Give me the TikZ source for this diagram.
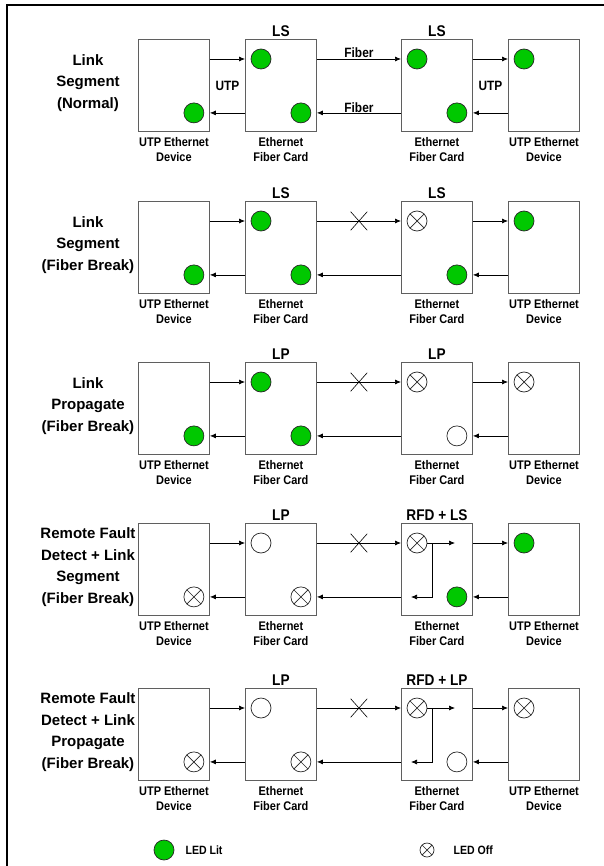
\documentclass[tikz,border=0pt]{standalone}
\usepackage{fontspec}
\setmainfont{Liberation Sans}
\newfontfamily\narrowsf{Liberation Sans}[FakeStretch=0.88]
\usetikzlibrary{positioning,arrows.meta,shapes.misc}
\definecolor{ledgreen}{RGB}{0,200,0}
\definecolor{boxgray}{RGB}{95,95,95}

\begin{document}
\begin{tikzpicture}[x=1pt, y=-1pt,
    dev_style/.style={draw=boxgray, line width=0.9pt, minimum width=71pt, minimum height=92pt, inner sep=0pt, anchor=north west},
    led_none/.style={circle, draw=black!85, line width=0.7pt, fill=white, minimum size=20pt, inner sep=0pt},
    led_on/.style={led_none, fill=ledgreen},
    led_off/.style={led_none, path picture={\draw[line width=0.7pt] (path picture bounding box.north west) -- (path picture bounding box.south east) (path picture bounding box.north east) -- (path picture bounding box.south west);}},
    sig_style/.style={line width=0.7pt, -{Latex[length=6pt, width=5pt]}},
    brk_style/.style={cross out, draw, line width=0.6pt, minimum width=16pt, minimum height=18pt, inner sep=0pt},
    row_label/.style={align=center, font=\fontsize{15}{21.5}\selectfont\bfseries},
    dev_label/.style={align=center, inner sep=1pt, font=\narrowsf\fontsize{12.5}{15.5}\selectfont\bfseries},
    card_title/.style={inner sep=1pt, font=\narrowsf\fontsize{15.5}{18}\selectfont\bfseries},
    wire_label/.style={inner sep=1.5pt, font=\narrowsf\fontsize{13.5}{16}\selectfont\bfseries},
    key_label/.style={inner sep=1pt, font=\narrowsf\fontsize{12}{14}\selectfont\bfseries}
]
\useasboundingbox (0,0) rectangle (604,866);
% Cadre
\draw[line width=2pt] (7,866) -- (7,5) -- (604,5);

% Cartes et liaisons, une rangee par cas
\foreach \r/\y in {1/39,2/201,3/362,4/523,5/688} {
    \foreach \n/\x in {a/138,b/245,c/401,d/508}
        \node[dev_style] (\n\r) at (\x,\y) {};
    \node[dev_label, below=4pt of a\r] {UTP Ethernet\\Device};
    \node[dev_label, below=4pt of b\r] {Ethernet\\Fiber Card};
    \node[dev_label, below=4pt of c\r] {Ethernet\\Fiber Card};
    \node[dev_label, below=4pt of d\r] {UTP Ethernet\\Device};
    \draw[sig_style] ([yshift=-20pt]a\r.north east) -- ([yshift=-20pt]b\r.north west);
    \draw[sig_style] ([yshift=-20pt]b\r.north east) -- ([yshift=-20pt]c\r.north west);
    \draw[sig_style] ([yshift=-20pt]c\r.north east) -- ([yshift=-20pt]d\r.north west);
    \draw[sig_style] ([yshift=19pt]d\r.south west) -- ([yshift=19pt]c\r.south east);
    \draw[sig_style] ([yshift=19pt]c\r.south west) -- ([yshift=19pt]b\r.south east);
    \draw[sig_style] ([yshift=19pt]b\r.south west) -- ([yshift=19pt]a\r.south east);
}

% Etats des cartes
\foreach \r/\p/\q in {1/LS/LS, 2/LS/LS, 3/LP/LP, 4/LP/RFD + LS, 5/LP/RFD + LP} {
    \node[card_title, above=1.5pt of b\r] {\p};
    \node[card_title, above=1.5pt of c\r] {\q};
}

% Titres des rangees
\node[row_label] (r1) at (88,83) {Link\\Segment\\(Normal)};
\node[row_label] (r2) at (88,245) {Link\\Segment\\(Fiber Break)};
\node[row_label] (r3) at (88,406) {Link\\Propagate\\(Fiber Break)};
\node[row_label] (r4) at (88,567) {Remote Fault\\Detect + Link\\Segment\\(Fiber Break)};
\node[row_label] (r5) at (88,732) {Remote Fault\\Detect + Link\\Propagate\\(Fiber Break)};

% Noms des liaisons (cas normal)
\path (a1) -- node[wire_label] {UTP} (b1);
\path (c1) -- node[wire_label] {UTP} (d1);
\path ([yshift=-20pt]b1.north east) -- node[wire_label, above] {Fiber} ([yshift=-20pt]c1.north west);
\path ([yshift=19pt]c1.south west) -- node[wire_label, above, yshift=-1.5pt] {Fiber} ([yshift=19pt]b1.south east);

% Fibre coupee
\foreach \r in {2,...,5}
    \path ([yshift=-20pt]b\r.north east) -- node[brk_style] {} ([yshift=-20pt]c\r.north west);

% LED du haut
\foreach \n/\s in {b1/on, c1/on, d1/on, b2/on, c2/off, d2/on, b3/on, c3/off, d3/off,
                   b4/none, c4/off, d4/on, b5/none, c5/off, d5/off}
    \node[led_\s] (t\n) at ([shift={(16,20)}]\n.north west) {};
% LED du bas
\foreach \n/\s in {a1/on, b1/on, c1/on, a2/on, b2/on, c2/on, a3/on, b3/on, c3/none,
                   a4/off, b4/off, c4/on, a5/off, b5/off, c5/none}
    \node[led_\s] (l\n) at ([shift={(-16,-19)}]\n.south east) {};

% Renvoi RFD dans la carte distante
\foreach \r in {4,5} {
    \coordinate (kr\r) at ([shift={(54,20)}]c\r.north west);
    \coordinate (kv\r) at ([shift={(31,20)}]c\r.north west);
    \coordinate (kl\r) at ([shift={(10,74)}]c\r.north west);
    \draw[sig_style] (tc\r.east) -- (kr\r);
    \draw[sig_style] (kv\r) |- (kl\r);
}

% Legende
\node[led_on] (keyon) at (164,850) {};
\node[key_label, right=10pt of keyon] {LED Lit};
\node[led_off, minimum size=14pt] (keyoff) at (427,850) {};
\node[key_label, right=18pt of keyoff] {LED Off};
\end{tikzpicture}
\end{document}
